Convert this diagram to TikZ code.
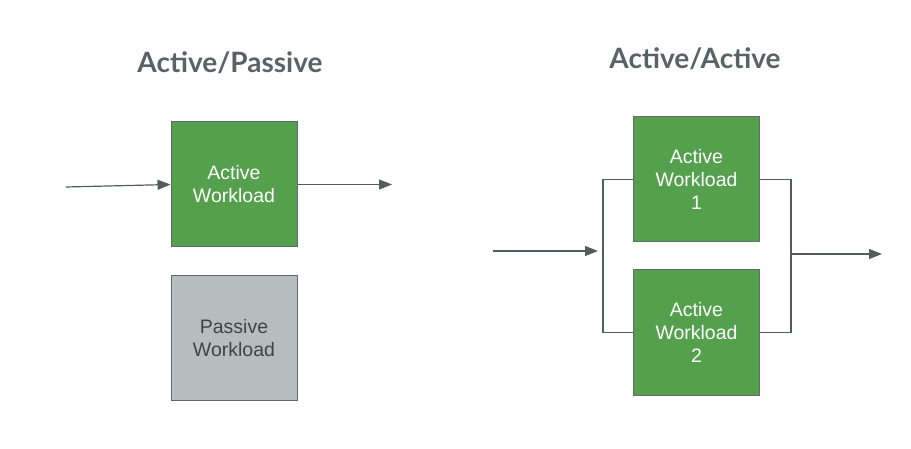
\documentclass[tikz,border=0pt]{standalone}
\usepackage{fontspec}
\setmainfont{Liberation Sans}
\newfontfamily\titlefont{Lato}
\usepackage{tikz}
\usetikzlibrary{arrows.meta}
\usetikzlibrary{positioning}

\definecolor{wlgreen}{HTML}{55A04D}
\definecolor{wlgrey}{HTML}{B7BDBF}
\definecolor{wlborder}{HTML}{5F6B6D}
\definecolor{wlline}{HTML}{555C5E}
\definecolor{wltitle}{HTML}{596366}
\definecolor{wltext}{HTML}{3F4446}

\begin{document}
\begin{tikzpicture}[x=1pt,y=-1pt,>={Triangle[length=13pt,width=10pt]},
        wlbox/.style={shape=rectangle,draw=wlborder,line width=1pt,minimum width=126pt,minimum height=125pt,align=center,font=\fontsize{19.5}{23}\selectfont},
        active/.style={wlbox,fill=wlgreen,text=white},
        passive/.style={wlbox,fill=wlgrey,text=wltext},
        title/.style={font=\titlefont\bfseries\fontsize{28}{30}\selectfont,text=wltitle},
        wire/.style={draw=wlline,line width=1.2pt}]
        
            \useasboundingbox (0,0) rectangle (911,449);
            
            % Titles
            \node[title] (T1) at (230,63) {Active/Passive};
            \node[title] (T2) at (695,59) {Active/Active};
            
            % Active/Passive nodes
            \node[active] (AP) at (234,184.5) {Active\\Workload};
            \node[passive] (PP) at (234,338) {Passive\\Workload};
            \coordinate (in1) at (66,187);
            \coordinate (out1) at (392,184.5);
            
            % Active/Active nodes
            \node[active] (AA1) at (696.5,179.5) {Active\\Workload\\1};
            \node[active] (AA2) at (696.5,332.5) {Active\\Workload\\2};
            \coordinate (in2) at (493,251);
            \coordinate (split) at (603,251);
            \coordinate (merge) at (791,254);
            \coordinate (out2) at (882,254);
            
            % Arrows
            \path (in1) edge[wire,->] (AP.west);
            \path (AP.east) edge[wire,->] (out1);
            \path (in2) edge[wire,->,shorten >=5pt] (split);
            \draw[wire] (AA1.west) -| (split) |- (AA2.west);
            \draw[wire] (AA1.east) -| (merge) |- (AA2.east);
            \path (merge) edge[wire,->] (out2);
        
        \end{tikzpicture}
\end{document}
